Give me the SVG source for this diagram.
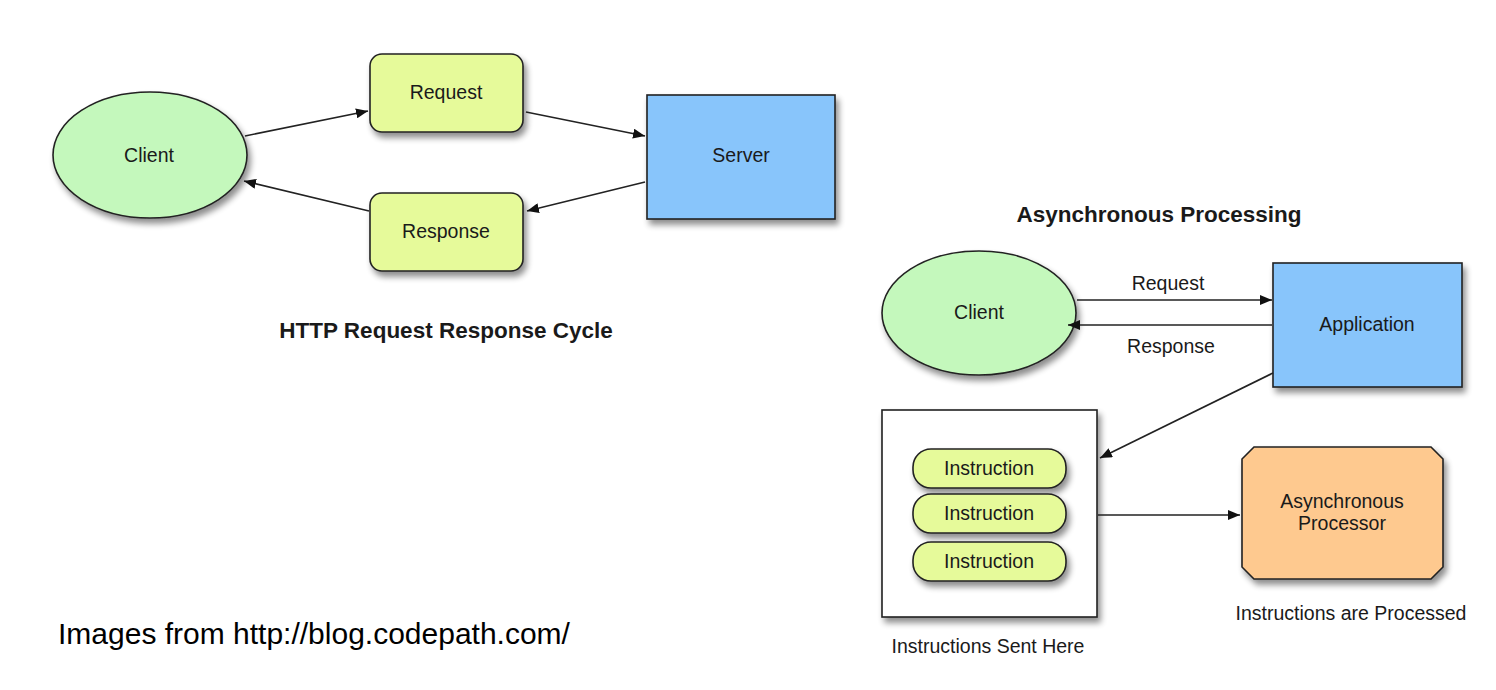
<svg xmlns="http://www.w3.org/2000/svg" width="1496" height="690" viewBox="0 0 1496 690">
<style>
text{font-family:"Liberation Sans",Arial,sans-serif;fill:#1a1a1a;text-anchor:middle}
.lbl{font-size:19.5px}
.title{font-size:22.5px;font-weight:bold}
.node{stroke:#222;stroke-width:1.6}
.green{fill:#c4f8bc}
.yellow{fill:#e6fa9a}
.blue{fill:#88c5fb}
.orange{fill:#fec98f}
.conn line{stroke:#222;stroke-width:1.6;marker-end:url(#ah)}
</style>
<defs>
<filter id="sh" x="-20%" y="-20%" width="150%" height="160%">
<feGaussianBlur in="SourceAlpha" stdDeviation="3"/>
<feOffset dx="3" dy="5" result="b"/>
<feComponentTransfer><feFuncA type="linear" slope="0.45"/></feComponentTransfer>
<feMerge><feMergeNode/><feMergeNode in="SourceGraphic"/></feMerge>
</filter>
<marker id="ah" viewBox="0 0 12 10" refX="12" refY="5" markerWidth="12" markerHeight="10" markerUnits="userSpaceOnUse" orient="auto">
<path d="M0,0 L12,5 L0,10 z" fill="#111"/>
</marker>
</defs>
<rect width="1496" height="690" fill="#fff"/>

<g id="left-client"><ellipse class="node green" filter="url(#sh)" cx="150" cy="155" rx="97" ry="63"/><text class="lbl" x="149" y="162">Client</text></g>
<g id="left-request"><rect class="node yellow" filter="url(#sh)" x="370" y="54" width="153" height="78" rx="12"/><text class="lbl" x="446" y="99">Request</text></g>
<g id="left-response"><rect class="node yellow" filter="url(#sh)" x="370" y="193" width="153" height="78" rx="12"/><text class="lbl" x="446" y="238">Response</text></g>
<g id="server"><rect class="node blue" filter="url(#sh)" x="647" y="95" width="188" height="124"/><text class="lbl" x="741" y="162">Server</text></g>
<g id="title-left"><text class="title" x="446" y="338">HTTP Request Response Cycle</text></g>

<g id="title-right"><text class="title" x="1159" y="222">Asynchronous Processing</text></g>
<g id="right-client"><ellipse class="node green" filter="url(#sh)" cx="979" cy="313" rx="97" ry="62"/><text class="lbl" x="979" y="319">Client</text></g>
<g id="application"><rect class="node blue" filter="url(#sh)" x="1273" y="263" width="189" height="124"/><text class="lbl" x="1367" y="331">Application</text></g>
<g id="queue"><rect class="node" fill="#fff" filter="url(#sh)" x="882" y="410" width="215" height="207"/><text class="lbl" x="988" y="653">Instructions Sent Here</text></g>
<g id="instruction-1"><rect class="node yellow" filter="url(#sh)" x="913" y="449" width="153" height="39" rx="18"/><text class="lbl" x="989" y="475">Instruction</text></g>
<g id="instruction-2"><rect class="node yellow" filter="url(#sh)" x="913" y="494" width="153" height="39" rx="18"/><text class="lbl" x="989" y="520">Instruction</text></g>
<g id="instruction-3"><rect class="node yellow" filter="url(#sh)" x="913" y="542" width="153" height="39" rx="18"/><text class="lbl" x="989" y="568">Instruction</text></g>
<g id="async-processor"><path class="node orange" filter="url(#sh)" d="M1254,447 H1431 L1443,459 V567 L1431,579 H1254 L1242,567 V459 Z"/><text class="lbl" x="1342" y="508">Asynchronous</text><text class="lbl" x="1342" y="530">Processor</text><text class="lbl" x="1351" y="620">Instructions are Processed</text></g>

<g id="connectors" class="conn">
<line x1="245" y1="136" x2="368" y2="111"/>
<line x1="526" y1="112" x2="645" y2="136"/>
<line x1="645" y1="182" x2="527" y2="211"/>
<line x1="369" y1="211" x2="244" y2="181"/>
<line x1="1077" y1="300" x2="1272" y2="300"/>
<line x1="1272" y1="325" x2="1068" y2="325"/>
<line x1="1273" y1="373" x2="1100" y2="458"/>
<line x1="1098" y1="515" x2="1240" y2="515"/>
</g>
<g id="conn-labels">
<text class="lbl" x="1168" y="290">Request</text>
<text class="lbl" x="1171" y="353">Response</text>
</g>
<g id="credit"><text x="58" y="644" style="font-size:30px;text-anchor:start;fill:#000">Images from http://blog.codepath.com/</text></g>
</svg>
